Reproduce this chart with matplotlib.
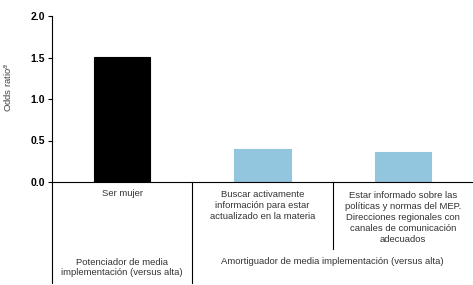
import matplotlib.pyplot as plt
import matplotlib.transforms as mtransforms

# Data
categories = ['Ser mujer',
              'Buscar activamente\ninformación para estar\nactualizado en la materia',
              'Estar informado sobre las\npolíticas y normas del MEP.\nDirecciones regionales con\ncanales de comunicación\nadecuados']
odds = [1.51, 0.40, 0.36]
bar_colors = ['#000000', '#92c5de', '#92c5de']
groups = ['Potenciador de media\nimplementación (versus alta)',
          'Amortiguador de media implementación (versus alta)']
yticks = [0.0, 0.5, 1.0, 1.5, 2.0]

plt.rcParams['font.family'] = ['Liberation Sans', 'DejaVu Sans']

W, H = 473, 285
fig = plt.figure(figsize=(W / 100, H / 100), dpi=100)
ax = fig.add_axes([52 / W, (H - 182) / H, 421 / W, 166 / H])

x = range(len(odds))
ax.bar(x, odds, width=0.4, color=bar_colors, edgecolor=bar_colors, linewidth=0.8)

ax.set_xlim(-0.5, 2.5)
ax.set_ylim(0, 2.0)
ax.set_yticks(yticks)
ax.set_yticklabels([f'{v:.1f}' for v in yticks], fontweight='bold', fontsize=7.5)
ax.tick_params(axis='y', length=3, width=0.8, pad=2)
ax.set_xticks([])
ax.spines['top'].set_visible(False)
ax.spines['right'].set_visible(False)
ax.spines['left'].set_linewidth(0.8)
ax.spines['bottom'].set_linewidth(0.8)
ax.set_ylabel('Odds ratio$^{a}$', fontsize=6.8, color='#444444')
ax.yaxis.set_label_coords(-38 / 421, 0.57)

# table-like lower area
tr = mtransforms.blended_transform_factory(ax.transData, ax.transAxes)
px = 1 / 166  # one pixel in axes fraction (vertical)
ax.plot([-0.5, -0.5], [0, -101 * px], transform=tr, color='black', lw=0.8, clip_on=False)
ax.plot([0.5, 0.5], [0, -101 * px], transform=tr, color='black', lw=0.8, clip_on=False)
ax.plot([1.5, 1.5], [0, -67 * px], transform=tr, color='black', lw=0.8, clip_on=False)

style = dict(transform=tr, ha='center', va='center', fontsize=6.8, color='#333333',
             linespacing=1.27)
for i, lab in enumerate(categories):
    n = lab.count('\n') + 1
    ax.text(i, -(12 + (n - 1) * 11.8 / 2) * px, lab, **style)

ax.text(0, -85.5 * px, groups[0], **style)
ax.text(1.5, -80 * px, groups[1], **style)

fig.savefig('out.png', dpi=100)
